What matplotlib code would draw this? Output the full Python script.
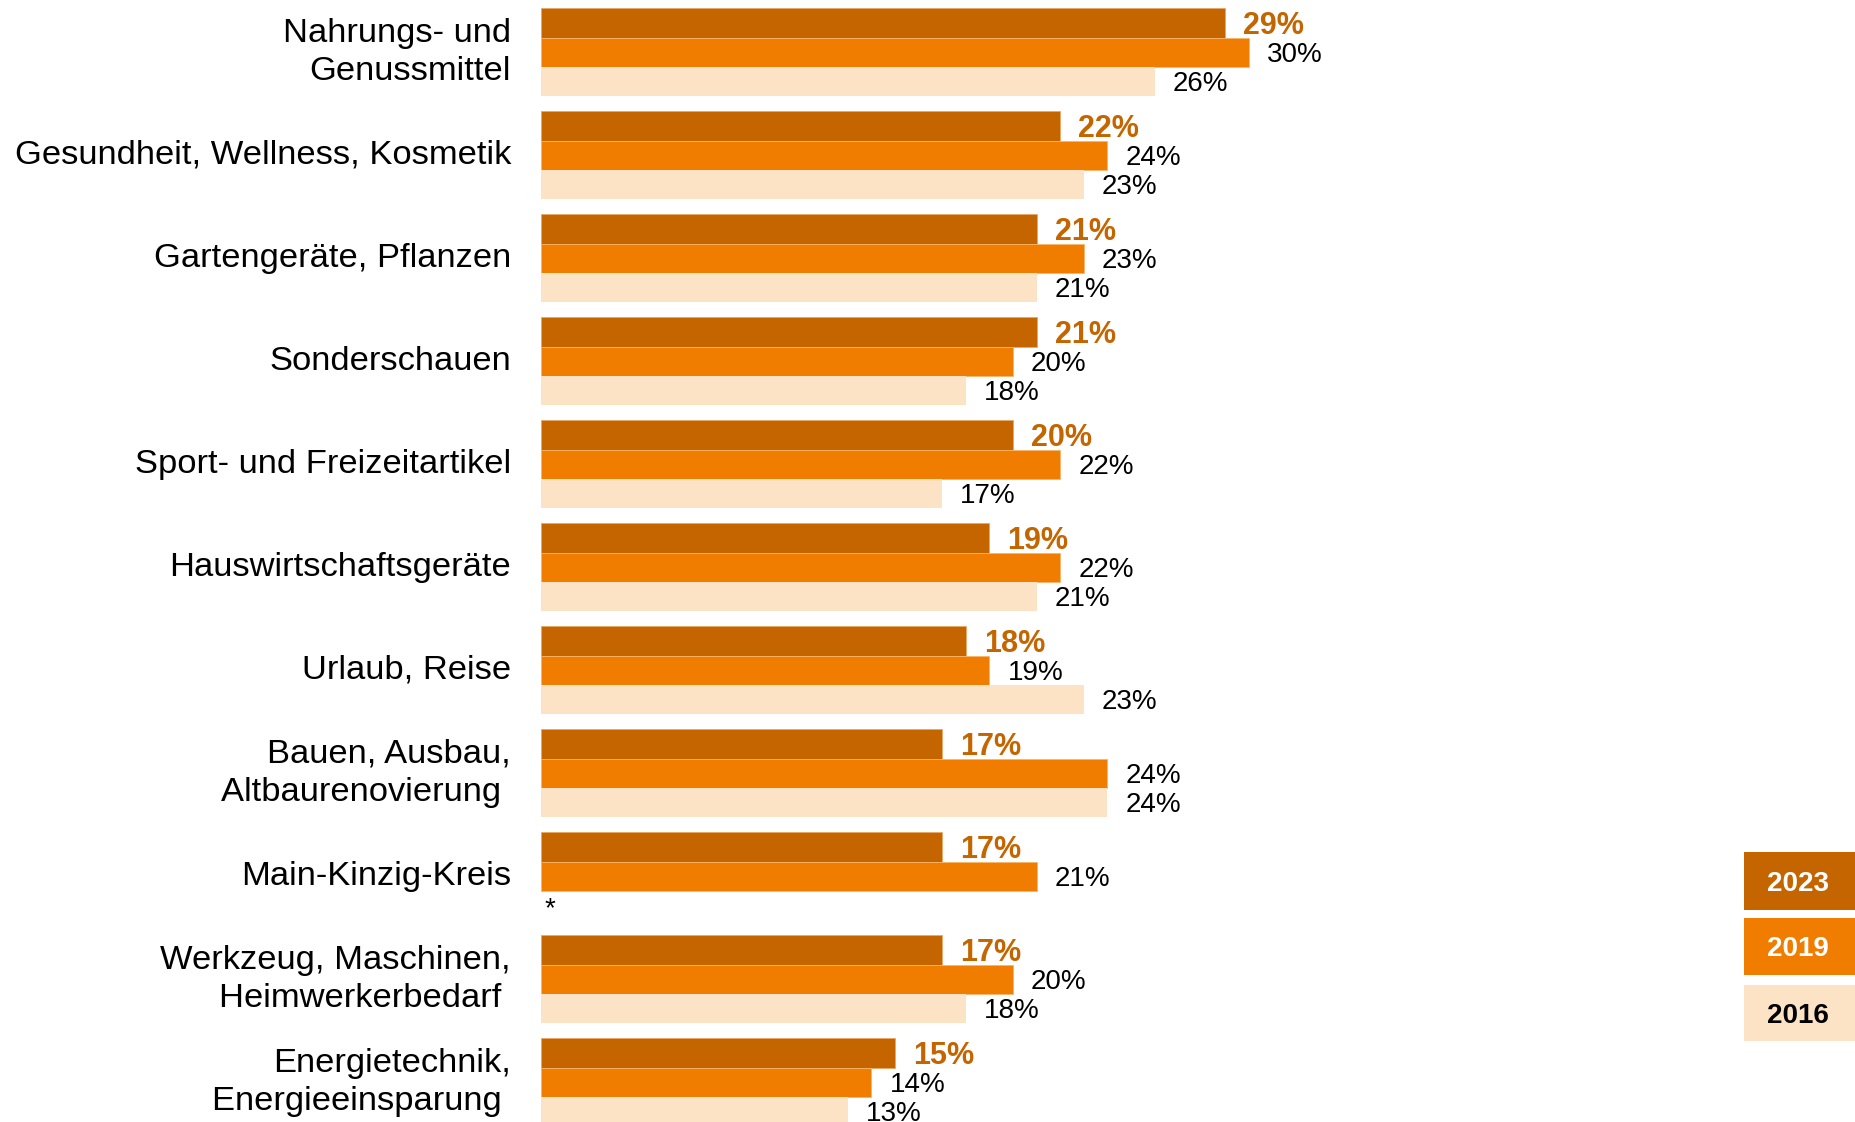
import numpy as np
import matplotlib
matplotlib.use("Agg")
import matplotlib.pyplot as plt
from matplotlib.patches import Rectangle

plt.rcParams['font.family'] = ['Liberation Sans', 'DejaVu Sans']

# Categories (top to bottom) and shares per survey year, in percent
categories = [
    "Nahrungs- und\nGenussmittel",
    "Gesundheit, Wellness, Kosmetik",
    "Gartengeräte, Pflanzen",
    "Sonderschauen",
    "Sport- und Freizeitartikel",
    "Hauswirtschaftsgeräte",
    "Urlaub, Reise",
    "Bauen, Ausbau,\nAltbaurenovierung ",
    "Main-Kinzig-Kreis",
    "Werkzeug, Maschinen,\nHeimwerkerbedarf ",
    "Energietechnik,\nEnergieeinsparung ",
]
values_2023 = [29, 22, 21, 21, 20, 19, 18, 17, 17, 17, 15]
values_2019 = [30, 24, 23, 20, 22, 22, 19, 24, 21, 20, 14]
values_2016 = [26, 23, 21, 18, 17, 21, 23, 24, np.nan, 18, 13]

years = ["2023", "2019", "2016"]
colors = ["#C46500", "#F07D00", "#FDE3C6"]
edge_colors = ["#E9A865", "#F7B56A", "none"]
legend_text_colors = ["white", "white", "black"]

W, H = 1856, 1122
fig = plt.figure(figsize=(W / 100, H / 100), dpi=100)

# Axes: value 0 sits at x=541 px, 23.6 px per percentage point
x0_px = 541
px_per_pct = 23.6
ax = fig.add_axes([x0_px / W, 0, (W - x0_px) / W, 1])
ax.set_xlim(0, (W - x0_px) / px_per_pct)

pitch_px = 103.0
bh = 29.2 / pitch_px
top = -1.5 * bh - 8.3 / pitch_px
ax.set_ylim(top + H / pitch_px, top)
ax.axis("off")

y = np.arange(len(categories))
series = [values_2023, values_2019, values_2016]
offsets = [-bh, 0.0, bh]
label_gap = 18 / px_per_pct

for vals, off, col, ec, yr in zip(series, offsets, colors, edge_colors, years):
    vals = np.asarray(vals, dtype=float)
    ax.barh(y + off, vals, height=bh, color=col, edgecolor=ec,
            linewidth=0.6)
    for yi, v in zip(y + off, vals):
        if np.isnan(v):
            continue
        if yr == "2023":
            ax.text(v + label_gap, yi, f"{v:.0f}%", ha="left",
                    va="center_baseline", fontsize=22, fontweight="bold",
                    color=colors[0])
        else:
            ax.text(v + label_gap, yi, f"{v:.0f}%", ha="left",
                    va="center_baseline", fontsize=20, color="black")

# Missing 2016 value for Main-Kinzig-Kreis is marked with an asterisk
for i, v in enumerate(values_2016):
    if np.isnan(v):
        ax.text(0.15, y[i] + bh + 0.04, "*", ha="left", va="center",
                fontsize=20, color="black")

# Category labels, right-aligned left of the bars
for yi, cat in zip(y, categories):
    ax.text(-30 / px_per_pct, yi, cat, ha="right", va="center",
            multialignment="right", fontsize=24.8, color="black",
            linespacing=1.3, clip_on=False)

# Year legend boxes at the right edge
boxes = [(852, 910), (918, 975), (985, 1041)]
for (t, b), yr, col, tc in zip(boxes, years, colors, legend_text_colors):
    fig.add_artist(Rectangle((1744 / W, 1 - b / H), (W - 1744 + 5) / W,
                             (b - t) / H, transform=fig.transFigure,
                             facecolor=col, edgecolor="none"))
    fig.text(1798 / W, 1 - (t + b) / 2 / H, yr, ha="center",
             va="center_baseline", fontsize=20, fontweight="bold", color=tc)

fig.savefig("out.png", dpi=100)
